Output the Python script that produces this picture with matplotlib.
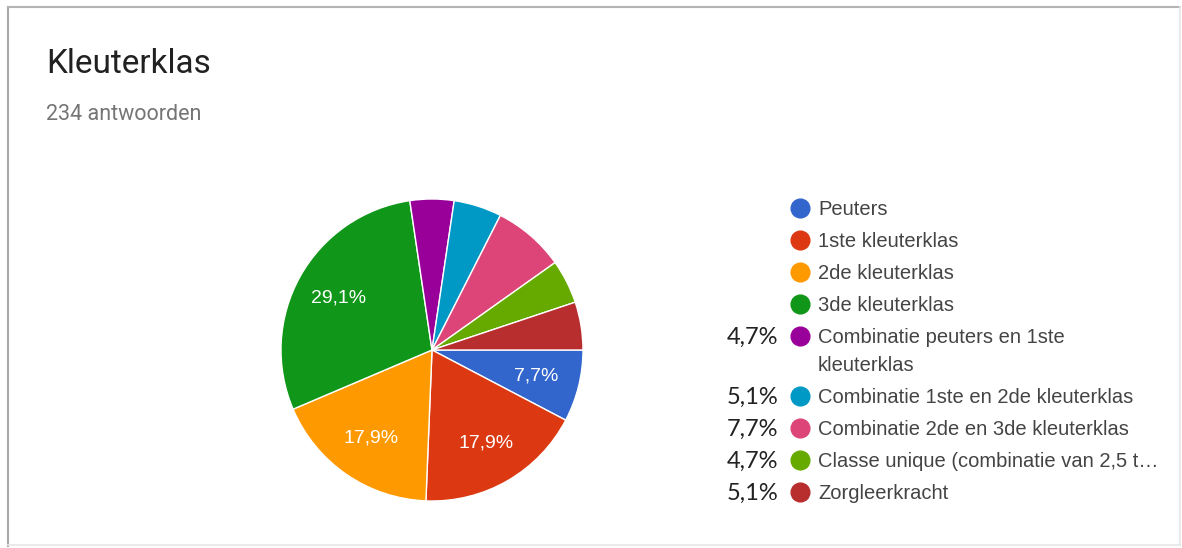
import numpy as np
import matplotlib.pyplot as plt
from matplotlib.lines import Line2D

# answer counts out of 234 responses
categories = [
    "Peuters",
    "1ste kleuterklas",
    "2de kleuterklas",
    "3de kleuterklas",
    "Combinatie peuters en 1ste\nkleuterklas",
    "Combinatie 1ste en 2de kleuterklas",
    "Combinatie 2de en 3de kleuterklas",
    "Classe unique (combinatie van 2,5 t\u2026",
    "Zorgleerkracht",
]
counts = [18, 42, 42, 68, 11, 12, 18, 11, 12]
colors = ["#3366CC", "#DC3912", "#FF9900", "#109618", "#990099",
          "#0099C6", "#DD4477", "#66AA00", "#B82E2E"]
inside_shown = [True, True, True, True, False, False, False, False, False]
side_pct = ["", "", "", "", "4,7%", "5,1%", "7,7%", "4,7%", "5,1%"]

W, H = 1182, 548
fig = plt.figure(figsize=(W / 100, H / 100), dpi=100)
fig.patch.set_facecolor("white")

# card border
fig.add_artist(Line2D([8 / W, 8 / W], [1 - 7 / H, 1 - 546 / H], color="#a8a8a8", lw=1.5))
fig.add_artist(Line2D([8 / W, 1180 / W], [1 - 7 / H, 1 - 7 / H], color="#b4b4b4", lw=1.5))
fig.add_artist(Line2D([8 / W, 1180 / W], [1 - 545 / H, 1 - 545 / H], color="#e6e6e6", lw=1.2))
fig.add_artist(Line2D([1180 / W, 1180 / W], [1 - 7 / H, 1 - 545 / H], color="#e6e6e6", lw=1.2))

fig.text(46 / W, 1 - 64 / H, "Kleuterklas", fontsize=24, family="Roboto",
         color="#212121", va="center", ha="left")
fig.text(46 / W, 1 - 120 / H, "234 antwoorden", fontsize=15.5, family="Roboto",
         color="#757575", va="baseline", ha="left")

# pie
cx, cy, r = 432, 350, 151
ax = fig.add_axes([(cx - r) / W, 1 - (cy + r) / H, 2 * r / W, 2 * r / H])
wedges, _ = ax.pie(counts, colors=colors, startangle=0, counterclock=False,
                   wedgeprops=dict(edgecolor="white", linewidth=1.0))
ax.set_xlim(-1, 1)
ax.set_ylim(-1, 1)
ax.set_aspect("equal")

total = sum(counts)
for w, c, show in zip(wedges, counts, inside_shown):
    if not show:
        continue
    mid = np.deg2rad((w.theta1 + w.theta2) / 2)
    pct = f"{100 * c / total:.1f}%".replace(".", ",")
    ax.text(0.71 * np.cos(mid), 0.71 * np.sin(mid), pct, color="white",
            fontsize=14, family="Liberation Sans", ha="center", va="center")

# legend
y0, dy = 208, 32
extra = 0
for i, (lab, col, sp) in enumerate(zip(categories, colors, side_pct)):
    y = y0 + i * dy + extra
    fig.add_artist(Line2D([800 / W], [1 - y / H], marker="o", markersize=13.5,
                          color=col, markeredgecolor=col))
    for k, line in enumerate(lab.split("\n")):
        fig.text(818 / W, 1 - (y + 7 + k * 28) / H, line, fontsize=14.5,
                 family="Liberation Sans", color="#444444", va="baseline", ha="left")
    extra += 28 * lab.count("\n")
    if sp:
        fig.text(778 / W, 1 - (y + 8) / H, sp, fontsize=17, family="Lato",
                 color="#222222", va="baseline", ha="right")

fig.savefig("out.png", dpi=100, facecolor="white")
